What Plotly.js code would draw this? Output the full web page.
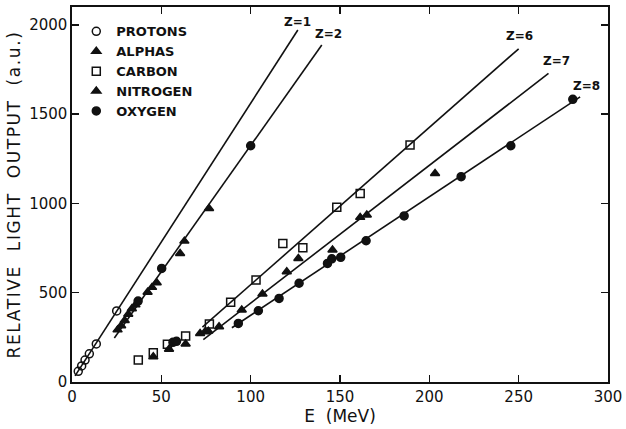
<!DOCTYPE html>
<html>
<head>
<meta charset="utf-8">
<script src="https://cdn.plot.ly/plotly-3.0.1.min.js"></script>
<style>html,body{margin:0;padding:0;background:#fff;}#chart{width:626px;height:429px;}
.ytitle{letter-spacing:1.6px;}
</style>
</head>
<body>
<div id="chart"></div>
<script>
// ---- data ----
const protonE = [3.5, 5.4, 7.3, 9.7, 13.6, 25];
const protonL = [60, 90, 123, 158, 213, 398];

const alphaE = [25.5, 27.5, 29.5, 31.5, 33.5, 35.5, 42.3, 44.8, 47.4, 60.5, 62.9, 76.7];
const alphaL = [292, 315, 345, 380, 410, 432, 503, 530, 556, 720, 789, 972];
// alpha points drawn with filled circles in the original
const alphaCircE = [37, 50.2, 100];
const alphaCircL = [453, 636, 1323];

const carbonE = [37.1, 45.5, 53.4, 63.6, 76.9, 88.8, 103, 118, 129.2, 148.2, 161.3, 189.2];
const carbonL = [123, 164, 211, 258, 325, 446, 571, 776, 752, 978, 1056, 1327];

const nitrogenE = [45.5, 54.3, 63.6, 71.7, 74.5, 76.3, 82.3, 95, 106.6, 120.2, 126.7, 145.8, 161.3, 165, 203.2];
const nitrogenL = [142, 183, 213, 272, 282, 285, 310, 403, 493, 618, 692, 739, 922, 935, 1168];

const oxygenE = [56.5, 58.5, 93.1, 104.3, 115.9, 127.1, 143, 145.4, 150.4, 164.6, 185.9, 217.8, 245.6, 280.3];
const oxygenL = [222, 228, 328, 399, 468, 553, 664, 690, 698, 791, 930, 1150, 1323, 1583];

// fitted lines (end points)
const lineNames = ["Z=1", "Z=2", "Z=6", "Z=7", "Z=8"];
const lineE = [[1.7, 126.4], [23.7, 139.8], [73, 250], [73.5, 266.7], [89.5, 284.4]];
const lineL = [[34, 1971], [246, 1887], [307, 1866], [237, 1728], [304, 1597]];
const labelE = [126, 143.5, 250.5, 271, 288];
const labelL = [2015, 1950, 1940, 1800, 1660];

const xTicks = [0, 50, 100, 150, 200, 250, 300];
const yTicks = [0, 500, 1000, 1500, 2000];

// ---- chart ----
const INK = "#111";
const FONT = "DejaVu Sans, sans-serif";
const traces = [];
lineE.forEach((e, i) => {
  traces.push({x: e, y: lineL[i], mode: "lines", line: {color: INK, width: 1.6},
    showlegend: false, hoverinfo: "skip"});
});
function pts(name, x, y, symbol, size, show) {
  return {name: name, x: x, y: y, mode: "markers", showlegend: show,
    marker: {symbol: symbol, size: size, color: INK, line: {color: INK, width: 1.5}}};
}
traces.push(pts("PROTONS", protonE, protonL, "circle-open", 8, true));
traces.push(pts("ALPHAS", alphaE, alphaL, "triangle-up", 8, true));
traces.push(pts("CARBON", carbonE, carbonL, "square-open", 8, true));
traces.push(pts("NITROGEN", nitrogenE, nitrogenL, "triangle-up", 8, true));
traces.push(pts("OXYGEN", oxygenE, oxygenL, "circle", 8, true));
traces.push(pts("ALPHAS", alphaCircE, alphaCircL, "circle", 8, false));

const annotations = lineNames.map((t, i) => ({
  x: labelE[i], y: labelL[i], text: "<b>" + t + "</b>", showarrow: false,
  font: {family: FONT, size: 12, color: INK}, xanchor: "center", yanchor: "middle"
}));

const layout = {
  width: 626, height: 429,
  margin: {l: 72, r: 18, t: 7, b: 47},
  paper_bgcolor: "#fff", plot_bgcolor: "#fff",
  font: {family: FONT, color: INK, size: 14},
  showlegend: true,
  legend: {x: 0.008, y: 0.975, xanchor: "left", yanchor: "top", bgcolor: "rgba(0,0,0,0)",
    font: {family: FONT, size: 13, color: INK, weight: "bold"}, tracegroupgap: 0, itemwidth: 30},
  xaxis: {range: [0, 300], tickvals: xTicks, ticktext: xTicks.map(String),
    ticks: "inside", ticklen: 7, tickwidth: 1.5, tickcolor: INK,
    showline: true, linecolor: INK, linewidth: 1.6, mirror: "ticks",
    showgrid: false, zeroline: false,
    tickfont: {family: FONT, size: 15, color: INK},
    title: {text: "E  (MeV)", font: {family: FONT, size: 17, color: INK}, standoff: 3}},
  yaxis: {range: [0, 2100], tickvals: yTicks, ticktext: yTicks.map(String),
    ticks: "inside", ticklen: 7, tickwidth: 1.5, tickcolor: INK,
    showline: true, linecolor: INK, linewidth: 1.6, mirror: "ticks",
    showgrid: false, zeroline: false,
    tickfont: {family: FONT, size: 15, color: INK},
    title: {text: "RELATIVE  LIGHT  OUTPUT  (a.u.)", font: {family: FONT, size: 17, color: INK}, standoff: 4}},
  annotations: annotations
};
Plotly.newPlot("chart", traces, layout, {staticPlot: true, displayModeBar: false});
</script>
</body>
</html>
